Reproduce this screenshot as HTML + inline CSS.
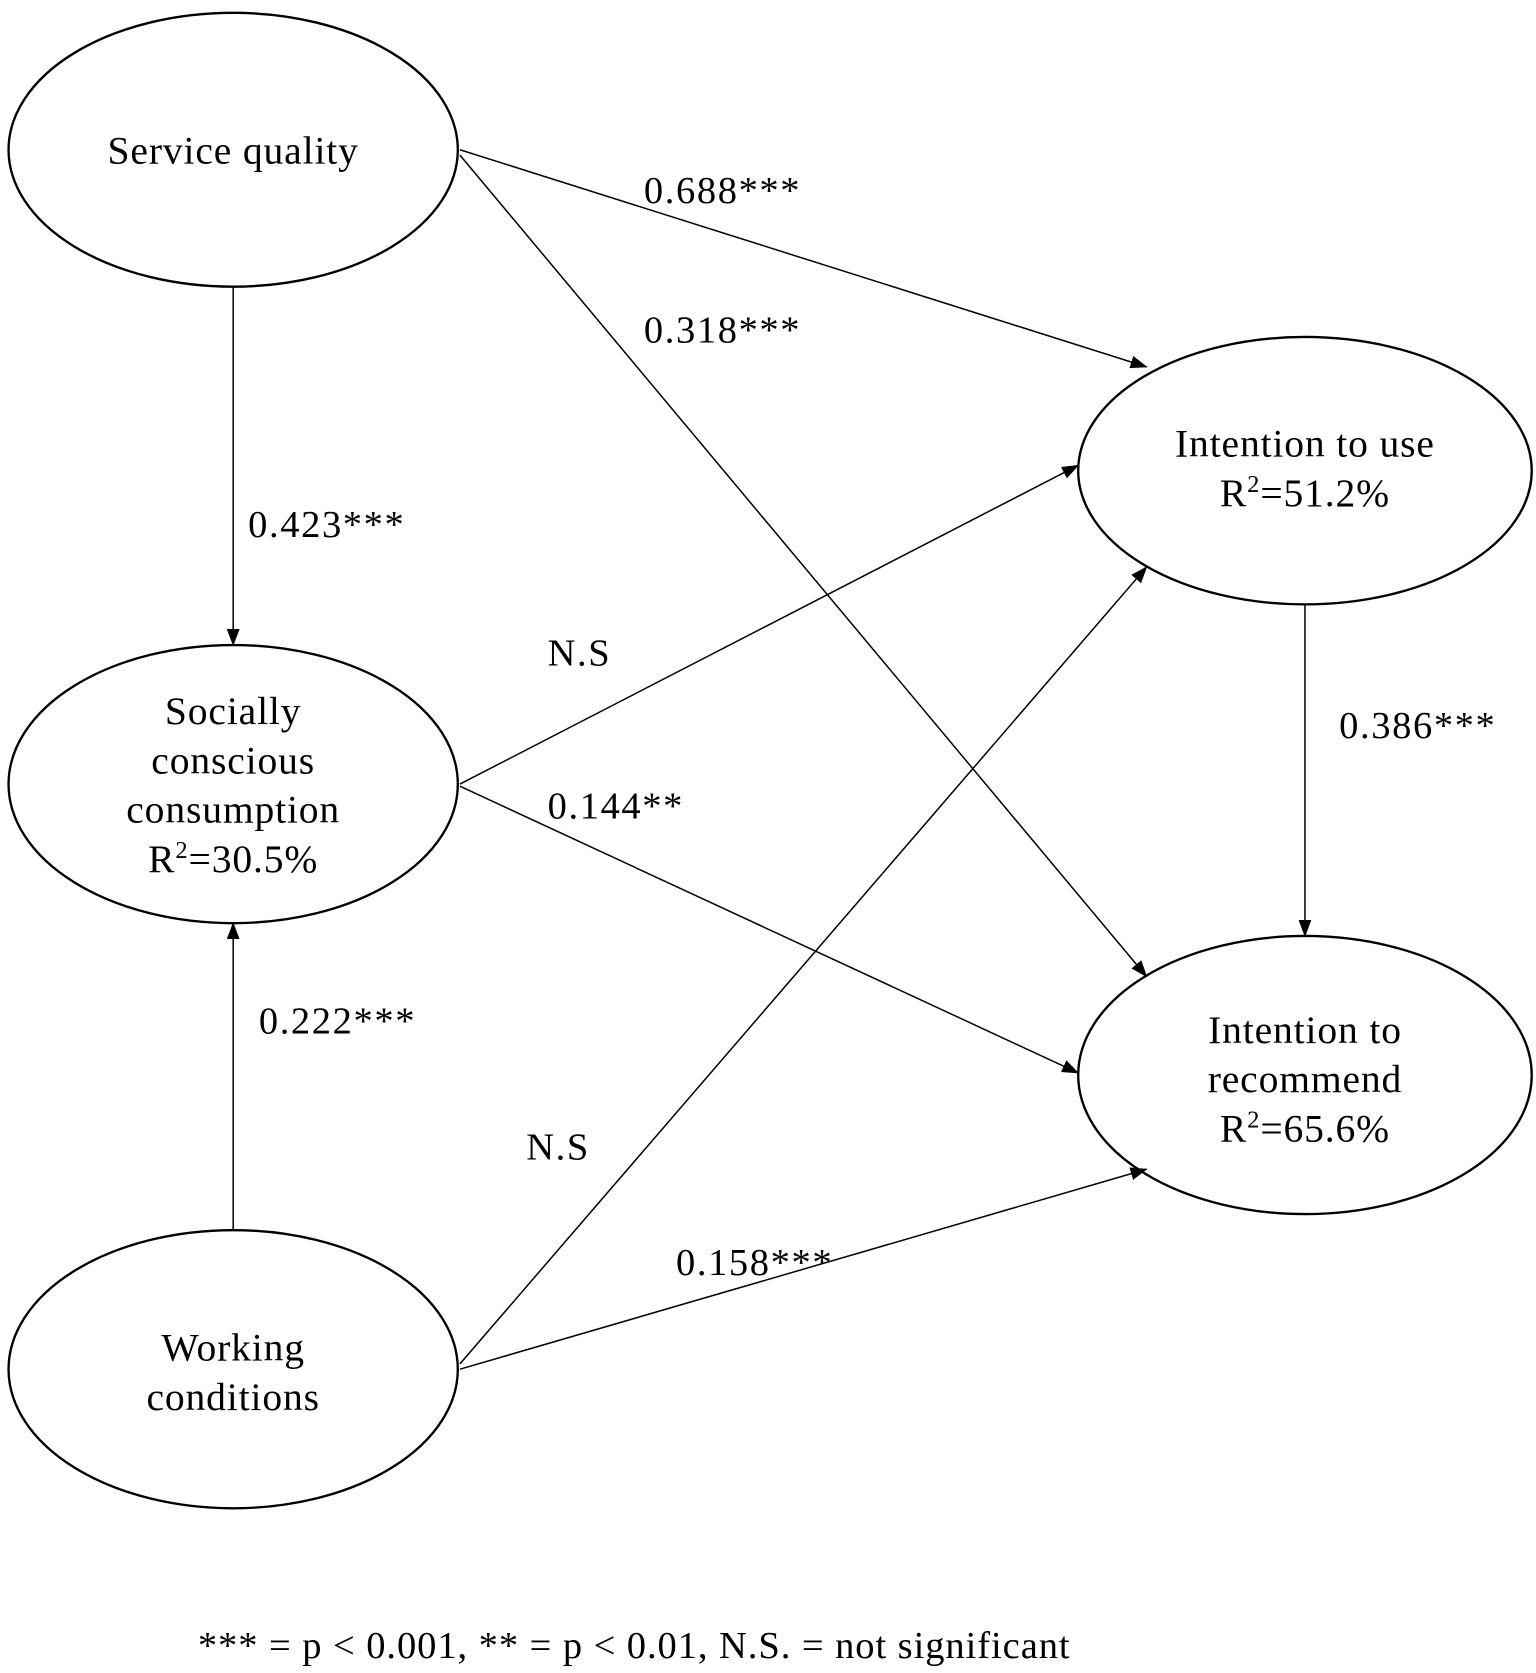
<!DOCTYPE html>
<html><head><style>html,body{margin:0;padding:0;background:#fff}svg{display:block}</style></head>
<body>
<svg width="1536" height="1673" viewBox="0 0 1436 1564" preserveAspectRatio="none" xmlns="http://www.w3.org/2000/svg" font-family="Liberation Serif, serif" fill="#000">
<defs><marker id="a" markerWidth="16" markerHeight="12" refX="15" refY="6" orient="auto" markerUnits="userSpaceOnUse"><path d="M0,0 L16,6 L0,12 z" fill="#000"/></marker></defs>
<g fill="none" stroke="#000" stroke-width="2.2">
<ellipse cx="218" cy="140" rx="210" ry="128"/>
<ellipse cx="218" cy="733" rx="210" ry="130"/>
<ellipse cx="218" cy="1280" rx="210" ry="130"/>
<ellipse cx="1220" cy="440" rx="212" ry="125"/>
<ellipse cx="1220" cy="1005" rx="212" ry="130"/>
</g>
<g stroke="#000" stroke-width="1.4" marker-end="url(#a)">
<line x1="430" y1="140" x2="1072" y2="343"/>
<line x1="430" y1="145" x2="1072" y2="913"/>
<line x1="218" y1="268" x2="218" y2="603"/>
<line x1="430" y1="733" x2="1008" y2="435"/>
<line x1="430" y1="735" x2="1008" y2="1003"/>
<line x1="218" y1="1150" x2="218" y2="863"/>
<line x1="430" y1="1275" x2="1072" y2="530"/>
<line x1="430" y1="1280" x2="1072" y2="1093"/>
<line x1="1220" y1="565" x2="1220" y2="875"/>
</g>
<g font-size="37" text-anchor="middle" letter-spacing="0.8">
<text x="218" y="153">Service quality</text>
<text x="218" y="677">Socially</text>
<text x="218" y="723">conscious</text>
<text x="218" y="769">consumption</text>
<text x="218" y="815">R<tspan font-size="23" dy="-13">2</tspan><tspan dy="13">=30.5%</tspan></text>
<text x="218" y="1272">Working</text>
<text x="218" y="1318">conditions</text>
<text x="1220" y="427">Intention to use</text>
<text x="1220" y="473">R<tspan font-size="23" dy="-13">2</tspan><tspan dy="13">=51.2%</tspan></text>
<text x="1220" y="975">Intention to</text>
<text x="1220" y="1021">recommend</text>
<text x="1220" y="1067">R<tspan font-size="23" dy="-13">2</tspan><tspan dy="13">=65.6%</tspan></text>
</g>
<g font-size="36" letter-spacing="1.5">
<text x="602" y="190">0.688***</text>
<text x="602" y="320">0.318***</text>
<text x="232" y="502">0.423***</text>
<text x="512" y="622">N.S</text>
<text x="512" y="765">0.144**</text>
<text x="1252" y="690">0.386***</text>
<text x="242" y="966">0.222***</text>
<text x="492" y="1084">N.S</text>
<text x="632" y="1192">0.158***</text>
</g>
<text x="185" y="1550" font-size="36" textLength="815" lengthAdjust="spacing">*** = p &lt; 0.001, ** = p &lt; 0.01, N.S. = not significant</text>
</svg>
</body></html>
